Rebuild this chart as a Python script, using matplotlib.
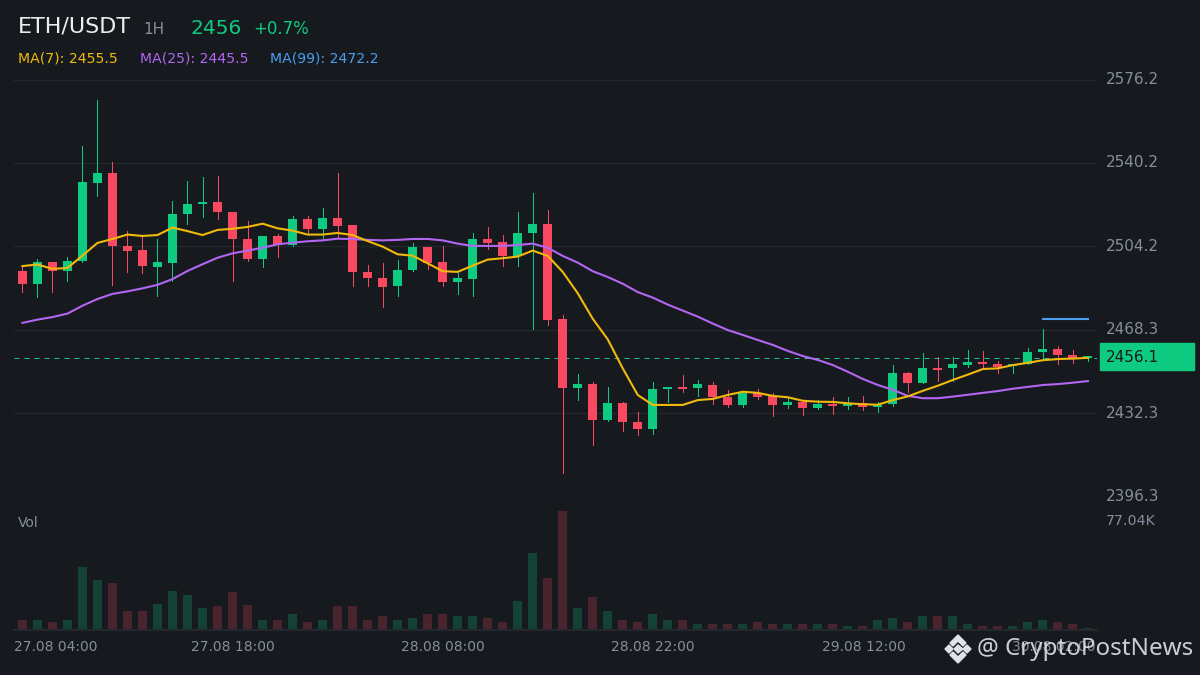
import matplotlib
matplotlib.use("Agg")
import matplotlib.pyplot as plt
from matplotlib.patches import Polygon, Rectangle

# Candles, oldest first
opens = [2493.6, 2488.0, 2497.5, 2493.6, 2497.9, 2531.6, 2535.9, 2504.4, 2502.6, 2495.3,
         2497.0, 2518.2, 2522.5, 2523.4, 2519.0, 2507.4, 2498.8, 2508.7, 2504.8, 2516.0,
         2511.7, 2516.5, 2513.4, 2493.2, 2490.6, 2487.1, 2494.0, 2504.0, 2497.5, 2488.8,
         2490.1, 2507.4, 2506.1, 2500.1, 2510.0, 2513.9, 2472.9, 2443.1, 2444.8, 2429.3,
         2436.6, 2428.4, 2425.4, 2442.7, 2443.5, 2443.1, 2444.4, 2439.2, 2435.8, 2441.0,
         2439.7, 2435.8, 2437.1, 2434.5, 2436.2, 2435.4, 2436.6, 2434.9, 2436.2, 2449.6,
         2445.3, 2451.7, 2451.7, 2453.0, 2454.3, 2453.5, 2452.6, 2453.5, 2458.6, 2459.9,
         2457.4, 2456.1]
highs = [2495.7, 2498.8, 2497.5, 2499.6, 2547.5, 2567.4, 2540.6, 2510.8, 2509.1, 2507.4,
         2523.8, 2532.4, 2534.1, 2534.6, 2519.0, 2515.2, 2508.7, 2509.5, 2517.3, 2517.3,
         2520.8, 2535.9, 2513.4, 2496.2, 2497.0, 2498.3, 2505.7, 2504.0, 2504.4, 2492.7,
         2510.0, 2512.6, 2509.1, 2519.0, 2527.2, 2519.9, 2474.6, 2449.2, 2445.7, 2443.5,
         2437.1, 2432.8, 2445.7, 2443.5, 2448.7, 2446.6, 2445.7, 2442.2, 2441.8, 2442.7,
         2441.0, 2438.8, 2437.9, 2437.9, 2439.2, 2439.2, 2439.7, 2437.1, 2453.0, 2450.0,
         2458.2, 2456.5, 2456.5, 2459.5, 2459.1, 2454.8, 2453.5, 2460.4, 2468.6, 2461.2,
         2459.5, 2456.9]
lows = [2484.5, 2482.4, 2484.5, 2489.3, 2497.5, 2525.9, 2487.5, 2493.2, 2492.7, 2482.8,
        2489.3, 2513.9, 2516.9, 2516.0, 2489.3, 2497.9, 2495.3, 2499.6, 2504.4, 2509.5,
        2507.0, 2508.3, 2487.1, 2487.1, 2478.1, 2482.8, 2493.6, 2494.5, 2487.1, 2483.7,
        2482.8, 2503.1, 2495.7, 2495.7, 2468.6, 2470.3, 2406.4, 2437.9, 2418.5, 2428.9,
        2424.6, 2422.8, 2423.3, 2437.1, 2441.4, 2439.7, 2436.2, 2434.9, 2434.9, 2438.4,
        2431.0, 2434.5, 2431.5, 2434.1, 2431.9, 2434.1, 2433.6, 2432.8, 2435.4, 2441.4,
        2445.3, 2446.1, 2446.1, 2452.2, 2452.2, 2449.6, 2449.6, 2453.5, 2455.2, 2453.5,
        2453.9, 2454.8]
closes = [2488.0, 2497.5, 2493.6, 2497.9, 2532.0, 2535.9, 2504.4, 2502.2, 2495.7, 2497.5,
          2518.2, 2522.5, 2523.4, 2519.0, 2507.4, 2498.8, 2508.7, 2504.8, 2516.0, 2511.7,
          2516.5, 2513.0, 2493.2, 2490.6, 2486.7, 2494.0, 2504.0, 2497.0, 2488.8, 2490.6,
          2507.4, 2505.7, 2500.1, 2510.0, 2513.9, 2472.5, 2443.1, 2444.8, 2429.3, 2436.6,
          2428.4, 2425.4, 2442.7, 2443.5, 2442.7, 2444.8, 2439.2, 2435.8, 2441.0, 2439.2,
          2435.8, 2437.1, 2434.5, 2436.2, 2435.4, 2436.2, 2434.9, 2435.8, 2449.6, 2445.3,
          2451.7, 2450.9, 2453.5, 2454.3, 2453.5, 2452.2, 2453.5, 2458.6, 2459.9, 2457.4,
          2456.1, 2456.9]
volumes = [6.5, 6.5, 5.2, 6.5, 40.5, 32.0, 30.0, 11.8, 11.8, 16.3,
           24.8, 22.2, 13.7, 15.0, 24.2, 15.7, 5.9, 6.5, 10.4, 5.2,
           6.5, 15.0, 15.0, 5.9, 8.5, 6.5, 7.2, 9.8, 10.4, 9.1,
           8.5, 7.8, 5.2, 18.3, 49.6, 33.3, 77.04, 13.7, 20.9, 11.8,
           5.9, 5.2, 9.8, 5.9, 5.9, 3.9, 3.9, 3.9, 3.3, 4.6,
           3.9, 3.9, 3.9, 3.9, 3.3, 2.6, 2.6, 5.9, 7.8, 5.2,
           9.1, 8.5, 9.1, 3.9, 2.6, 2.6, 2.0, 4.6, 5.9, 4.6,
           3.9, 1.3]

ma7 = [2495.7, 2496.4, 2494.5, 2494.9, 2500.2, 2505.7, 2507.4, 2509.3, 2508.7, 2509.1,
       2512.3, 2510.8, 2509.1, 2511.3, 2511.8, 2512.6, 2514.0, 2512.0, 2511.0, 2509.3,
       2509.3, 2510.0, 2509.1, 2506.5, 2504.1, 2500.8, 2500.2, 2496.9, 2493.5, 2493.2,
       2495.9, 2498.5, 2499.1, 2499.8, 2502.4, 2500.1, 2493.2, 2484.0, 2473.0, 2464.1,
       2451.6, 2440.1, 2435.8, 2435.8, 2435.8, 2437.9, 2438.4, 2440.1, 2441.5, 2441.0,
       2439.7, 2439.1, 2437.6, 2437.2, 2437.1, 2436.5, 2436.1, 2435.9, 2437.9, 2439.5,
       2441.9, 2444.1, 2446.6, 2448.9, 2451.3, 2451.6, 2453.0, 2454.0, 2455.1, 2455.6,
       2455.8, 2456.1]
ma25 = [2471.2, 2472.6, 2473.7, 2475.2, 2478.6, 2481.5, 2483.7, 2484.8, 2486.1, 2487.6,
        2490.1, 2493.6, 2496.5, 2499.3, 2501.2, 2502.4, 2503.6, 2505.1, 2505.8, 2506.4,
        2506.8, 2507.5, 2507.4, 2507.0, 2506.8, 2507.0, 2507.4, 2507.4, 2506.8, 2505.4,
        2504.4, 2504.4, 2504.4, 2504.8, 2505.4, 2503.6, 2500.1, 2497.2, 2493.5, 2491.0,
        2488.1, 2484.5, 2482.1, 2479.1, 2476.5, 2473.9, 2470.9, 2468.1, 2466.0, 2463.8,
        2461.7, 2459.1, 2456.9, 2455.2, 2453.0, 2450.1, 2447.0, 2444.4, 2442.3, 2439.7,
        2438.7, 2438.7, 2439.4, 2440.2, 2441.0, 2441.8, 2442.8, 2443.6, 2444.4, 2444.8,
        2445.4, 2446.1]
ma99 = [2472.9, 2472.9, 2472.9, 2472.9]
ma99_start = 68

price_ticks = [2576.2, 2540.2, 2504.2, 2468.3, 2432.3, 2396.3]
time_ticks = [0, 14, 28, 42, 56, 70]
time_labels = ["27.08 04:00", "27.08 18:00", "28.08 08:00", "28.08 22:00", "29.08 12:00", "30.08 02:00"]
last_price = 2456.1

BG = "#161a1e"
GRID = "#24272c"
GREEN = "#0ecb81"
RED = "#f84960"
GRAY = "#848e9c"
YELLOW = "#f0b90b"
PURPLE = "#b266f2"
BLUE = "#4a9df0"

W, H = 1200, 675


def px_axes(fig, left, top, right, bottom):
    # axes box given in image pixels, y measured from the top
    return fig.add_axes([left / W, 1 - bottom / H, (right - left) / W, (bottom - top) / H])


def style_axes(ax):
    ax.set_facecolor("none")
    for spine in ax.spines.values():
        spine.set_visible(False)
    ax.set_xlim(-0.56, 71.6)
    ax.tick_params(length=0)


fig = plt.figure(figsize=(12, 6.75), dpi=100, facecolor=BG)

# price pane
ax = px_axes(fig, 14, 79.5, 1097, 496.5)
style_axes(ax)
ax.set_ylim(price_ticks[-1], price_ticks[0])
ax.set_xticks([])
ax.set_yticks([])
for p in price_ticks:
    ax.axhline(p, color=GRID, lw=1, zorder=1)
    ax.annotate(f"{p:.1f}", (1, p), xycoords=("axes fraction", "data"), xytext=(9, 0),
                textcoords="offset pixels", color=GRAY, fontsize=11, va="center", annotation_clip=False)

idx = list(range(len(opens)))
colors = [GREEN if c >= o else RED for o, c in zip(opens, closes)]
ax.vlines(idx, lows, highs, color=colors, lw=0.72, antialiased=False, zorder=2)
ax.bar(idx, [max(abs(c - o), 0.5) for o, c in zip(opens, closes)],
       bottom=[min(o, c) for o, c in zip(opens, closes)], width=0.6, color=colors, zorder=3)

ax.plot(range(ma99_start, ma99_start + len(ma99)), ma99, color=BLUE, lw=1.5, zorder=4)
ax.plot(idx, ma25, color=PURPLE, lw=1.5, zorder=4)
ax.plot(idx, ma7, color=YELLOW, lw=1.5, zorder=5)

ax.axhline(last_price, color="#25c197", lw=0.72, dashes=(5, 5), zorder=2)
fig.add_artist(Rectangle((1100 / W, 1 - 370 / H), 94 / W, 27 / H, color=GREEN, transform=fig.transFigure, zorder=10))

# volume pane
vol = px_axes(fig, 14, 511, 1097, 629.5)
style_axes(vol)
vol.set_ylim(0, max(volumes))
vol.set_xticks([])
vol.set_yticks([])
vol.bar(idx, volumes, width=0.6, color=colors, alpha=0.23)
vol.axhline(0, color=GRID, lw=1.5, clip_on=False)


def label(x, y, s, **kw):
    fig.text(x / W, 1 - y / H, s, va="center", **kw)


# header
label(18, 27, "ETH/USDT", color="#eaecef", fontsize=16)
label(143, 30, "1H", color=GRAY, fontsize=11)
label(191, 28, "2456", color=GREEN, fontsize=14.5)
label(253, 29, "+0.7%", color=GREEN, fontsize=12)
label(18, 58, "MA(7): 2455.5", color=YELLOW, fontsize=10.1)
label(140, 58, "MA(25): 2445.5", color=PURPLE, fontsize=10.1)
label(270, 58, "MA(99): 2472.2", color=BLUE, fontsize=10.1)
label(18, 523, "Vol", color=GRAY, fontsize=10)
label(1106, 521, "77.04K", color=GRAY, fontsize=10.3)
label(1106, 357.5, f"{last_price:.1f}", color=BG, fontsize=11, zorder=11)

# time labels, the first and last are pushed inside the chart
for i, tick in enumerate(time_ticks):
    x = 22.4 + 15.02 * tick
    if i == 0:
        label(14, 647, time_labels[i], color=GRAY, fontsize=10)
    elif i == len(time_ticks) - 1:
        label(1096, 647, time_labels[i], color=GRAY, fontsize=10, ha="right")
    else:
        label(x, 647, time_labels[i], color=GRAY, fontsize=10, ha="center")

# watermark
label(977, 649, "@ CryptoPostNews", color="#dfe2e6", fontsize=17.4, family="Noto Sans", zorder=20, alpha=0.9)
logo = [
    [(958, 635), (966, 643), (963, 646), (958, 641), (953, 646), (950, 643)],
    [(958, 663), (966, 655), (963, 652), (958, 657), (953, 652), (950, 655)],
    [(958, 645), (963, 649), (958, 653), (954, 649)],
    [(949, 645), (953, 649), (949, 653), (945, 649)],
    [(967, 645), (971, 649), (967, 653), (963, 649)],
]
for shape in logo:
    fig.add_artist(Polygon([(x / W, 1 - y / H) for x, y in shape], closed=True, color="#dfe2e6",
                           transform=fig.transFigure, zorder=20))

fig.savefig("out.png", dpi=100, facecolor=BG)
